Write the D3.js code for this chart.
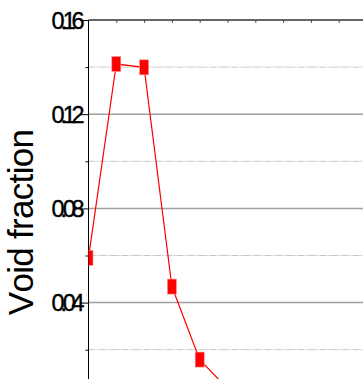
<!DOCTYPE html>
<html lang="en">
<head>
<meta charset="UTF-8">
<title>Void fraction</title>
<style>
  body { margin: 0; background: #fff; }
  svg { display: block; }
  .ylab text { font-family: "Liberation Sans", Arial, sans-serif; font-size: 23.5px; letter-spacing: -4.2px; fill: #000; stroke: #000; stroke-width: 0.4px; }
  .title { font-family: "Liberation Sans", Arial, sans-serif; font-size: 35px; letter-spacing: -0.7px; font-kerning: none; fill: #000; }
</style>
</head>
<body>
<svg width="363" height="379"></svg>
<script src="https://cdn.jsdelivr.net/npm/d3@7"></script>
<script>
// data
var xIndex = [0, 1, 2, 3, 4, 5];
var voidFraction = [0.0590, 0.1413, 0.1399, 0.0468, 0.0158, 0.0035];
var majorTicks = [0.04, 0.08, 0.12, 0.16];
var minorTicks = [0.02, 0.06, 0.10, 0.14];
var topTicks = [1, 2, 3, 4, 5, 6, 7, 8, 9];

var svg = d3.select("svg"),
    plotLeft = 88.5, plotTop = 20, plotRight = 363;

var x = d3.scaleLinear().domain([0, 9]).range([plotLeft, plotLeft + 27.8 * 9]);
var y = d3.scaleLinear().domain([0, 0.16]).range([396.8, plotTop]);

svg.append("clipPath").attr("id", "plot")
  .append("rect").attr("x", plotLeft).attr("y", plotTop).attr("width", plotRight - plotLeft).attr("height", 400);

// gridlines
svg.append("g").selectAll("line")
  .data(minorTicks).enter().append("line")
    .attr("x1", plotLeft).attr("x2", plotRight)
    .attr("y1", function(d) { return y(d); }).attr("y2", function(d) { return y(d); })
    .attr("stroke", "#c8c8c8").attr("stroke-width", 1).attr("stroke-dasharray", "7,1,2,1");

svg.append("g").selectAll("line")
  .data(majorTicks.slice(0, 3)).enter().append("line")
    .attr("x1", plotLeft).attr("x2", plotRight)
    .attr("y1", function(d) { return y(d); }).attr("y2", function(d) { return y(d); })
    .attr("stroke", "#a0a0a0").attr("stroke-width", 1.5);

// top frame with ticks
var topAxis = svg.append("g")
    .attr("transform", "translate(0," + plotTop + ")")
    .call(d3.axisBottom(x).tickValues(topTicks).tickSize(3).tickFormat(""));
topAxis.select(".domain").remove();
topAxis.selectAll("line").attr("stroke", "#555");
svg.append("line")
    .attr("x1", plotLeft).attr("x2", plotRight).attr("y1", plotTop).attr("y2", plotTop)
    .attr("stroke", "#333").attr("stroke-width", 1.5);

// y axis
var yAxis = svg.append("g")
    .attr("class", "ylab")
    .attr("transform", "translate(" + plotLeft + ",0)")
    .call(d3.axisLeft(y).tickValues(majorTicks).tickSize(8).tickFormat(d3.format(".2f")));
yAxis.select(".domain").attr("d", "M0," + plotTop + "V379").attr("stroke", "#000");
yAxis.selectAll("text")
    .attr("x", -8).attr("dy", "0.35em")
    .attr("font-size", null).attr("font-family", null);

svg.append("g")
    .attr("transform", "translate(" + plotLeft + ",0)")
    .call(d3.axisLeft(y).tickValues(minorTicks).tickSize(3).tickFormat(""))
  .select(".domain").remove();

// title
svg.append("text")
    .attr("class", "title")
    .attr("transform", "translate(33,222.5) rotate(-90)")
    .attr("text-anchor", "middle")
    .text("Void fraction");

// series
var pts = xIndex.map(function(d, i) { return [d, voidFraction[i]]; });
var plot = svg.append("g").attr("clip-path", "url(#plot)");

plot.append("path")
    .datum(pts)
    .attr("fill", "none")
    .attr("stroke", "#ff0000")
    .attr("stroke-width", 1.2)
    .attr("d", d3.line().x(function(d) { return x(d[0]); }).y(function(d) { return y(d[1]); }));

plot.selectAll("rect.m")
  .data(pts).enter().append("rect")
    .attr("class", "m")
    .attr("x", function(d) { return x(d[0]) - 4.5; })
    .attr("y", function(d) { return y(d[1]) - 7.5; })
    .attr("width", 9).attr("height", 15)
    .attr("fill", "#ff0000")
    .attr("stroke", "#ff9090").attr("stroke-width", 0.6);
</script>
</body>
</html>
